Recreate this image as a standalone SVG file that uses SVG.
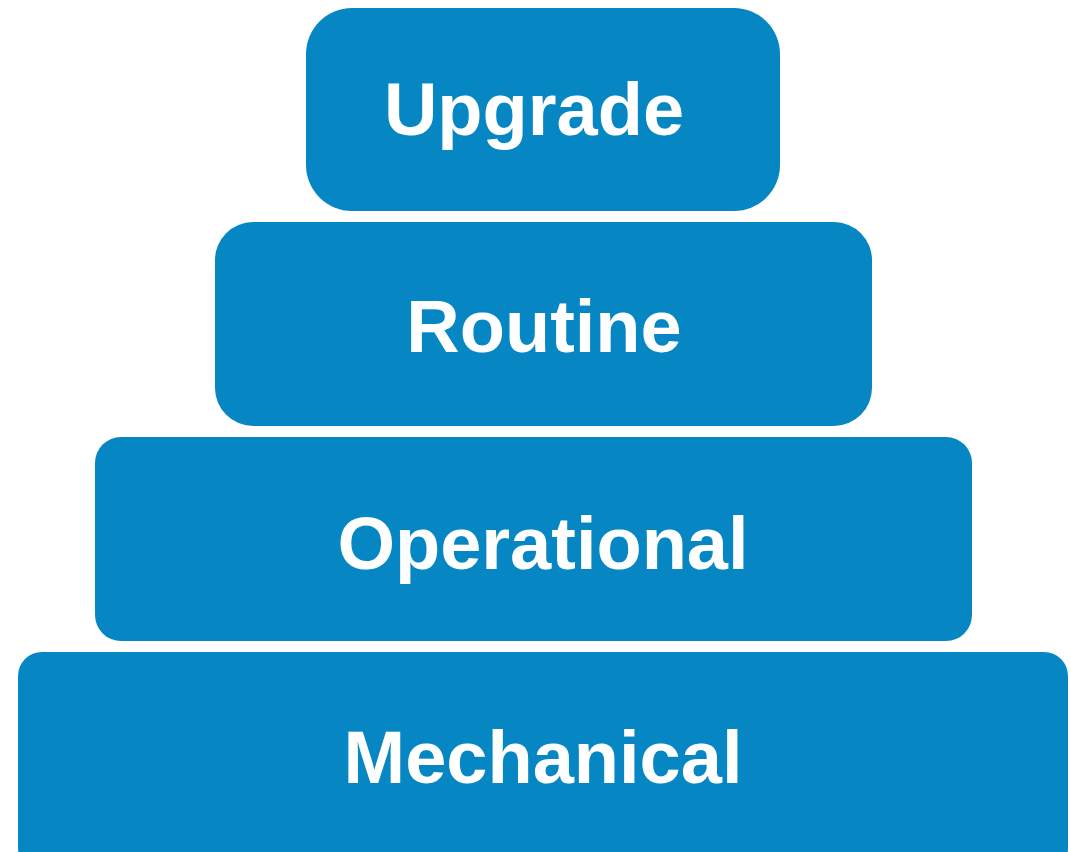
<svg xmlns="http://www.w3.org/2000/svg" width="1071" height="852" viewBox="0 0 1071 852">
<style>
.box{fill:#0687C4;}
.lbl{fill:#ffffff;font-family:"Liberation Sans",Arial,sans-serif;font-weight:bold;font-size:74px;text-anchor:middle;}
</style>
<rect width="1071" height="852" fill="#ffffff"/>
<g id="upgrade">
<rect class="box" x="306" y="8" width="474" height="203" rx="46" ry="46"/>
<text class="lbl" x="534" y="135">Upgrade</text>
</g>
<g id="routine">
<rect class="box" x="215" y="222" width="657" height="204" rx="38" ry="38"/>
<text class="lbl" x="544" y="352">Routine</text>
</g>
<g id="operational">
<rect class="box" x="95" y="437" width="877" height="204" rx="26" ry="26"/>
<text class="lbl" x="543" y="569">Operational</text>
</g>
<g id="mechanical">
<rect class="box" x="18" y="652" width="1050" height="220" rx="24" ry="24"/>
<text class="lbl" x="543" y="783">Mechanical</text>
</g>
<g id="connectors"></g>
</svg>
